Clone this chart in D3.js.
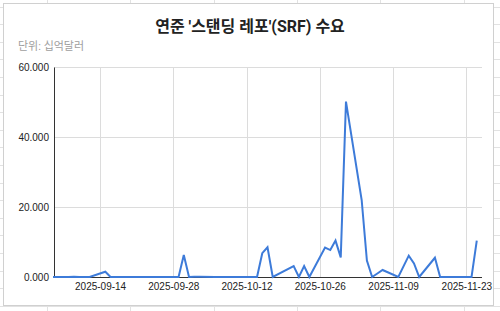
<!DOCTYPE html>
<html>
<head>
<meta charset="utf-8">
<script src="https://cdn.jsdelivr.net/npm/d3@7"></script>
<style>
  body { margin: 0; background: #fff; }
  svg { display: block; }
</style>
</head>
<body>
<div id="chart"></div>
<script>
// data (billions of dollars)
var dates = [
  '2025-09-05', '2025-09-08', '2025-09-09', '2025-09-10', '2025-09-11', '2025-09-12',
  '2025-09-15', '2025-09-16', '2025-09-17', '2025-09-18', '2025-09-19',
  '2025-09-22', '2025-09-23', '2025-09-24', '2025-09-25', '2025-09-26',
  '2025-09-29', '2025-09-30', '2025-10-01', '2025-10-02', '2025-10-03',
  '2025-10-06', '2025-10-07', '2025-10-08', '2025-10-09', '2025-10-10',
  '2025-10-13', '2025-10-14', '2025-10-15', '2025-10-16', '2025-10-17',
  '2025-10-21', '2025-10-22', '2025-10-23', '2025-10-24',
  '2025-10-27', '2025-10-28', '2025-10-29', '2025-10-30', '2025-10-31',
  '2025-11-03', '2025-11-04', '2025-11-05', '2025-11-06', '2025-11-07',
  '2025-11-10', '2025-11-12', '2025-11-13', '2025-11-14',
  '2025-11-17', '2025-11-18', '2025-11-19', '2025-11-20', '2025-11-21',
  '2025-11-24', '2025-11-25'
]
var values = [
  0, 0, 0.1, 0, 0, 0,
  1.5, 0, 0, 0, 0,
  0, 0, 0, 0, 0,
  0, 6.3, 0, 0.1, 0.1,
  0, 0, 0, 0, 0,
  0, 0, 6.8, 8.5, 0,
  3.1, 0, 3.1, 0,
  8.4, 7.7, 10.4, 5.6, 50.1,
  22.0, 4.7, 0, 1.0, 2.0,
  0, 6.1, 3.9, 0,
  5.5, 0, 0, 0, 0,
  0, 10.4
]
var yTicks = [0, 20, 40, 60]
var xTicks = ['2025-09-14', '2025-09-28', '2025-10-12', '2025-10-26', '2025-11-09', '2025-11-23']
var xDomain = ['2025-09-05', '2025-11-26']
var title = "연준 '스탠딩 레포'(SRF) 수요"
var subtitle = '단위: 십억달러'

var W = 500, H = 311
var parse = d3.timeParse('%Y-%m-%d')
var fmt = d3.timeFormat('%Y-%m-%d')
var yFmt = d3.format('.3f')

var data = dates.map((d, i) => ({ date: parse(d), value: values[i] }))

var svg = d3.select('#chart').append('svg')
  .attr('width', W)
  .attr('height', H)

// spreadsheet behind the chart card
var sheet = svg.append('g').attr('stroke', '#e2e2e2').attr('stroke-width', 1)
sheet.selectAll('line.col')
  .data(d3.range(47, W, 83.3))
  .enter().append('line')
  .attr('x1', d => Math.round(d) + 0.5).attr('x2', d => Math.round(d) + 0.5)
  .attr('y1', 0).attr('y2', H)
sheet.selectAll('line.row')
  .data(d3.range(6.5, H, 17.6))
  .enter().append('line')
  .attr('y1', d => Math.round(d) + 0.5).attr('y2', d => Math.round(d) + 0.5)
  .attr('x1', 0).attr('x2', W)

// chart card
svg.append('rect')
  .attr('x', 3.5).attr('y', 3.5)
  .attr('width', 490).attr('height', 302)
  .attr('fill', '#fff')
  .attr('stroke', '#d0d0d0')

var x = d3.scaleTime()
  .domain(xDomain.map(parse))
  .range([53, 482])
var y = d3.scaleLinear()
  .domain([0, 60])
  .range([277, 67])

svg.append('text')
  .attr('x', 250).attr('y', 32)
  .attr('text-anchor', 'middle')
  .style('font-family', "Roboto, 'Noto Sans CJK KR', sans-serif")
  .style('font-size', '16px')
  .style('font-weight', 'bold')
  .attr('fill', '#222')
  .text(title)

svg.append('text')
  .attr('x', 18).attr('y', 50)
  .style('font-family', "Roboto, 'Noto Sans CJK KR', sans-serif")
  .style('font-size', '11px')
  .attr('fill', '#9e9e9e')
  .text(subtitle)

// gridlines
var grid = svg.append('g').attr('stroke', '#dcdcdc').attr('stroke-width', 1)
grid.selectAll('line.h')
  .data(yTicks.filter(d => d > 0))
  .enter().append('line')
  .attr('x1', 54).attr('x2', 482)
  .attr('y1', d => Math.round(y(d)) + 0.5).attr('y2', d => Math.round(y(d)) + 0.5)
grid.selectAll('line.v')
  .data(xTicks.map(parse))
  .enter().append('line')
  .attr('x1', d => Math.round(x(d)) + 0.5).attr('x2', d => Math.round(x(d)) + 0.5)
  .attr('y1', y(60)).attr('y2', y(0))

// axes
var yAxis = svg.append('g')
  .attr('transform', 'translate(54,0)')
  .call(d3.axisLeft(y).tickValues(yTicks).tickFormat(yFmt).tickSize(0).tickPadding(5))
yAxis.select('.domain').attr('stroke', '#333')
yAxis.selectAll('text')
  .style('font-family', "'Liberation Sans', Arial, sans-serif")
  .style('font-size', '10px')
  .attr('fill', '#222')

var xAxis = svg.append('g')
  .attr('transform', 'translate(0,' + y(0) + ')')
  .call(d3.axisBottom(x).tickValues(xTicks.map(parse)).tickFormat(fmt).tickSize(0).tickPadding(6))
xAxis.select('.domain').attr('stroke', '#333').attr('d', 'M54,0.5H482')
xAxis.selectAll('text')
  .style('font-family', "'Liberation Sans', Arial, sans-serif")
  .style('font-size', '10px')
  .attr('fill', '#222')

// series line
var line = d3.line()
  .x(d => x(d.date))
  .y(d => y(d.value))

svg.append('path')
  .datum(data)
  .attr('fill', 'none')
  .attr('stroke', '#3d7bd9')
  .attr('stroke-width', 2)
  .attr('stroke-linejoin', 'miter')
  .attr('d', line)
</script>
</body>
</html>
